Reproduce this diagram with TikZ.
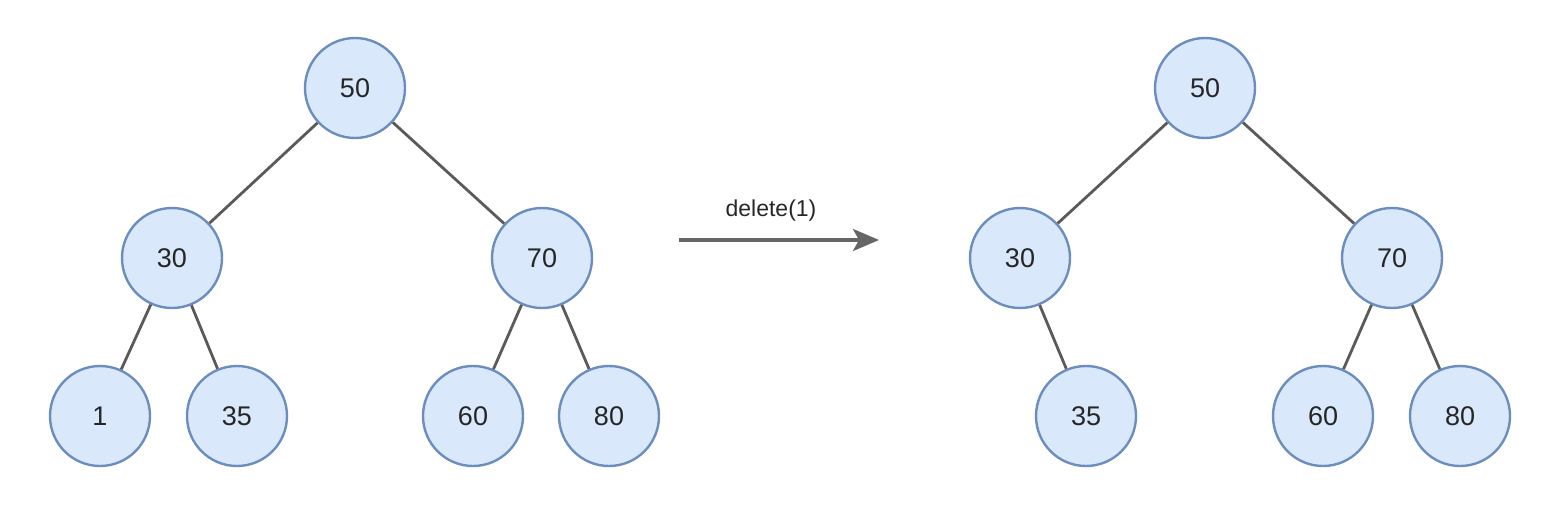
\documentclass[tikz,border=0pt]{standalone}
\usepackage{fontspec}
\setmainfont{Liberation Sans}
\usetikzlibrary{arrows.meta}
\definecolor{nfill}{HTML}{DAE8FC}
\definecolor{nline}{HTML}{6C8EBF}
\definecolor{eline}{HTML}{5A5A5A}
\definecolor{aline}{HTML}{666666}
\tikzset{
  tnode/.style={circle, draw=nline, fill=nfill, line width=2.4pt, minimum size=100pt, inner sep=0pt, font=\fontsize{27}{30}\selectfont, text=black!85},
  tedge/.style={draw=eline, line width=2.8pt},
  oparrow/.style={draw=aline, line width=3.5pt, -{Stealth[length=26pt,width=22pt,inset=6pt]}}
}
\begin{document}
\begin{tikzpicture}[x=1pt,y=-1pt]
\useasboundingbox (0,0) rectangle (1554,524);
% left tree
\node[tnode] (a50) at (355,88) {50};
\node[tnode] (a30) at (172,258) {30};
\node[tnode] (a70) at (542,258) {70};
\node[tnode] (a1) at (100,416) {1};
\node[tnode] (a35) at (237,416) {35};
\node[tnode] (a60) at (473,416) {60};
\node[tnode] (a80) at (609,416) {80};
% right tree
\node[tnode] (b50) at (1205,88) {50};
\node[tnode] (b30) at (1020,258) {30};
\node[tnode] (b70) at (1392,258) {70};
\node[tnode] (b35) at (1086,416) {35};
\node[tnode] (b60) at (1323,416) {60};
\node[tnode] (b80) at (1460,416) {80};
\draw[tedge] (a50) -- (a30);
\draw[tedge] (a50) -- (a70);
\draw[tedge] (a30) -- (a1);
\draw[tedge] (a30) -- (a35);
\draw[tedge] (a70) -- (a60);
\draw[tedge] (a70) -- (a80);
\draw[tedge] (b50) -- (b30);
\draw[tedge] (b50) -- (b70);
\draw[tedge] (b30) -- (b35);
\draw[tedge] (b70) -- (b60);
\draw[tedge] (b70) -- (b80);
% arrow
\coordinate (s) at (679,240);
\coordinate (e) at (879,240);
\draw[oparrow] (s) -- (e);
\node[font=\fontsize{23}{26}\selectfont, text=black!85] (lbl) at (771,211) {delete(1)};
\end{tikzpicture}
\end{document}
